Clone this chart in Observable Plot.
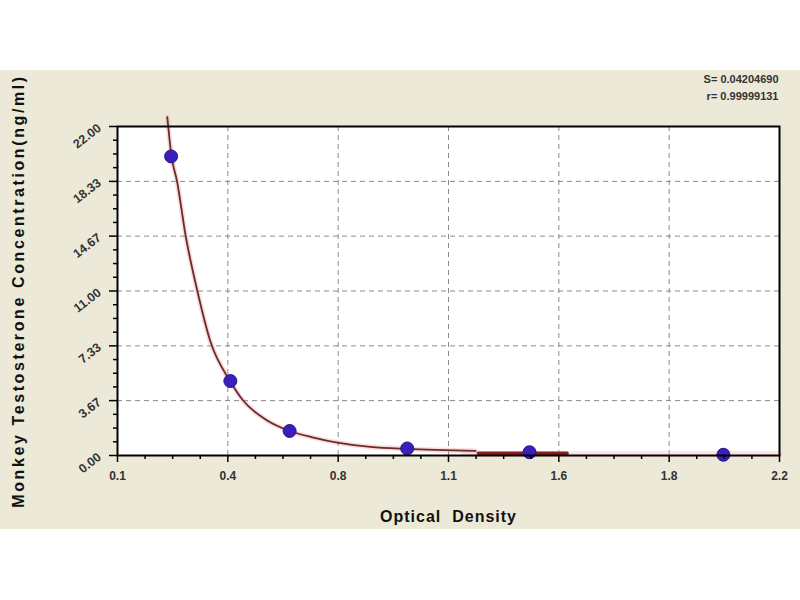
<!DOCTYPE html>
<html>
<head>
<meta charset="utf-8">
<script src="https://cdn.jsdelivr.net/npm/d3@7"></script>
<script src="https://cdn.jsdelivr.net/npm/@observablehq/plot@0.6"></script>
<style>
  html, body { margin: 0; padding: 0; background: #fff; }
  #chart { position: absolute; left: 0; top: 70px; width: 800px; height: 459px; background: #ece9d8; }
  #chart svg { overflow: visible; }
</style>
</head>
<body>
<div id="chart"></div>
<script>
// Standard curve: measured OD vs concentration (ng/ml)
const od = [0.27, 0.458, 0.646, 1.019, 1.407, 2.022];
const conc = [20.0, 4.98, 1.64, 0.47, 0.22, 0.05];

// fitted curve
const fitOd = [0.258, 0.271, 0.289, 0.316, 0.353, 0.395, 0.458, 0.496, 0.575, 0.646, 0.722, 0.797, 0.903, 1.019, 1.236];
const fitConc = [22.62, 20.06, 18.32, 14.71, 11.03, 7.6, 4.95, 3.74, 2.34, 1.64, 1.2, 0.86, 0.58, 0.44, 0.31];

// the darker red tail of the fit along the axis
const tailOd = [1.245, 1.526];
const tailConc = [0.15, 0.15];
const glowOd = [1.2, 2.2];
const glowConc = [0.1, 0.1];

const xTickValues = [0.1, 0.45, 0.8, 1.15, 1.5, 1.85, 2.2];
const xTickLabels = ["0.1", "0.4", "0.8", "1.1", "1.6", "1.8", "2.2"];
const yTickLabels = ["0.00", "3.67", "7.33", "11.00", "14.67", "18.33", "22.00"];
const yTickValues = yTickLabels.map(Number);

const statLines = ["S= 0.04204690", "r= 0.99999131"];
const xTitle = "Optical  Density";
const yTitle = "Monkey Testosterone Concentration(ng/ml)";

function minors(major) {
  const out = [];
  for (let i = 0; i < major.length - 1; i++) {
    const step = (major[i + 1] - major[i]) / 4;
    for (let k = 1; k < 4; k++) out.push(major[i] + step * k);
  }
  return out;
}

const pts = od.map((x, i) => ({ x, y: conc[i] }));
const fit = fitOd.map((x, i) => ({ x, y: fitConc[i] }));
const tail = tailOd.map((x, i) => ({ x, y: tailConc[i] }));
const glow = glowOd.map((x, i) => ({ x, y: glowConc[i] }));
const xLab = new Map(xTickValues.map((v, i) => [v, xTickLabels[i]]));
const yLab = new Map(yTickValues.map((v, i) => [v, yTickLabels[i]]));
const inner = (a) => a.slice(1, -1);

const chart = Plot.plot({
  width: 800,
  height: 459,
  marginLeft: 117,
  marginRight: 21,
  marginTop: 56,
  marginBottom: 74,
  style: {
    background: "transparent",
    fontFamily: "Liberation Sans, Arial, sans-serif",
    fontSize: "11px",
    color: "#222",
  },
  x: { domain: [0.1, 2.2] },
  y: { domain: [0, 22] },
  marks: [
    Plot.frame({ fill: "#ffffff", stroke: null }),
    Plot.gridX(inner(xTickValues), { stroke: "#8a8a8a", strokeOpacity: 1, strokeDasharray: "5,4" }),
    Plot.gridY(inner(yTickValues), { stroke: "#8a8a8a", strokeOpacity: 1, strokeDasharray: "5,4" }),
    Plot.line(glow, { x: "x", y: "y", stroke: "#f3b8b8", strokeWidth: 6, strokeOpacity: 0.35 }),
    Plot.line(fit, { x: "x", y: "y", curve: "monotone-x", stroke: "#e8a0a0", strokeWidth: 5, strokeOpacity: 0.35 }),
    Plot.line(fit, { x: "x", y: "y", curve: "monotone-x", stroke: "#6e2a2a", strokeWidth: 1.8 }),
    Plot.line(tail, { x: "x", y: "y", stroke: "#8e1b1b", strokeWidth: 3.5 }),
    Plot.dot(pts, { x: "x", y: "y", r: 6.5, fill: "#3a1fbc", stroke: "#28158a", strokeWidth: 1 }),
    Plot.frame({ stroke: "#000", strokeWidth: 2 }),
    Plot.axisX(xTickValues, {
      tickSize: 7, tickPadding: 9, tickFormat: (d) => xLab.get(d),
      fontSize: 12, fontWeight: "bold", fill: "#333", stroke: "#000", strokeWidth: 1.5, label: null,
    }),
    Plot.axisX(minors(xTickValues), { tickSize: 4, text: null, stroke: "#000", strokeWidth: 1.5, label: null }),
    Plot.axisY(yTickValues, {
      tickSize: 8, tickPadding: 10, tickRotate: -38, tickFormat: (d) => yLab.get(d),
      fontSize: 12.5, fontWeight: "bold", fill: "#333", stroke: "#000", strokeWidth: 1.5, label: null,
    }),
    Plot.axisY(minors(yTickValues), { tickSize: 4, text: null, stroke: "#000", strokeWidth: 1.5, label: null }),
    Plot.text([xTitle], {
      frameAnchor: "bottom", dy: 61, fontSize: 16, fill: "#111",
      fontWeight: 600, lineAnchor: "middle",
    }),
    Plot.text([yTitle], {
      frameAnchor: "left", dx: -99, rotate: -90, fontSize: 16, fill: "#111",
      fontWeight: 600, lineAnchor: "middle", textAnchor: "middle",
    }),
    Plot.text([statLines.join("\n")], {
      frameAnchor: "top-right", dx: -1, dy: -56, textAnchor: "end", lineAnchor: "top",
      fontSize: 11, fontWeight: "bold", fill: "#333", lineHeight: 1.55,
    }),
  ],
});

document.getElementById("chart").appendChild(chart);
// spacing of the axis titles, wider as in the original
chart.querySelectorAll("text").forEach((t) => {
  if (t.textContent === yTitle) t.setAttribute("letter-spacing", "2.6");
  if (t.textContent === xTitle) t.setAttribute("letter-spacing", "1");
});
</script>
</body>
</html>
